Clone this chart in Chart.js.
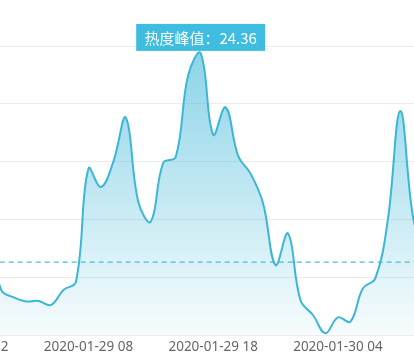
<!DOCTYPE html>
<html>
<head>
<meta charset="utf-8">
<script src="https://cdn.jsdelivr.net/npm/chart.js@4/dist/chart.umd.min.js"></script>
<style>
	html, body { margin: 0; padding: 0; background: #fff; width: 414px; height: 363px; overflow: hidden; }
	#wrap { position: absolute; left: 0; top: 0; width: 560px; height: 420px; }
</style>
</head>
<body>
<div id="wrap"><canvas id="chart"></canvas></div>
<script>
'use strict';

// hourly buckets, 2020-01-28 22:00 .. 2020-01-30 11:00
var hours = [
	'2020-01-28 22', '2020-01-28 23',
	'2020-01-29 00', '2020-01-29 01', '2020-01-29 02', '2020-01-29 03', '2020-01-29 04', '2020-01-29 05',
	'2020-01-29 06', '2020-01-29 07', '2020-01-29 08', '2020-01-29 09', '2020-01-29 10', '2020-01-29 11',
	'2020-01-29 12', '2020-01-29 13', '2020-01-29 14', '2020-01-29 15', '2020-01-29 16', '2020-01-29 17',
	'2020-01-29 18', '2020-01-29 19', '2020-01-29 20', '2020-01-29 21', '2020-01-29 22', '2020-01-29 23',
	'2020-01-30 00', '2020-01-30 01', '2020-01-30 02', '2020-01-30 03', '2020-01-30 04', '2020-01-30 05',
	'2020-01-30 06', '2020-01-30 07', '2020-01-30 08', '2020-01-30 09', '2020-01-30 10', '2020-01-30 11'
];

// heat values
var heat = [
	7.6, 9.4,
	8.6, 3.9, 3.25, 2.9, 2.95, 2.6,
	3.9, 4.6, 14.4, 12.8, 15.0, 18.8,
	11.5, 9.8, 14.9, 15.4, 22.5, 24.36,
	17.33, 19.7, 15.5, 13.96, 11.4, 6.05,
	8.78, 3.0, 1.73, 0.15, 1.53, 1.15,
	4.03, 4.9, 9.93, 19.37, 10.36, 6.2
];

var avgHeat = 6.3;
var labelEvery = 10;
var peakTitle = '热度峰值：';

var blue = '#3cb6d7';

var peakLabel = {
	id: 'peakLabel',
	afterDatasetsDraw: function(chart) {
		var ctx = chart.ctx,
			data = chart.data.datasets[0].data,
			max = Math.max.apply(null, data),
			idx = data.indexOf(max),
			x = chart.scales.x.getPixelForValue(idx),
			y = chart.scales.y.getPixelForValue(max),
			w = 129, h = 27;

		ctx.save();
		ctx.fillStyle = '#3ebde0';
		ctx.fillRect(x - w / 2, y - 2.5 - h, w, h);
		ctx.fillStyle = '#fff';
		ctx.font = '15px "Noto Sans CJK SC", "Noto Sans", sans-serif';
		ctx.textAlign = 'center';
		ctx.textBaseline = 'middle';
		ctx.fillText(peakTitle + max.toFixed(2), x, y - 2.5 - h / 2 + 0.5);
		ctx.restore();
	}
};

var chart = new Chart(document.getElementById('chart'), {
	type: 'line',
	data: {
		labels: hours,
		datasets: [
			{
				data: heat,
				borderColor: blue,
				borderWidth: 2,
				pointRadius: 0,
				tension: 0.4,
				fill: 'origin',
				backgroundColor: function(context) {
					var area = context.chart.chartArea;
					if (!area) {
						return 'rgba(60,182,215,0.3)';
					}
					var g = context.chart.ctx.createLinearGradient(0, area.top, 0, area.bottom);
					g.addColorStop(0, 'rgba(60,182,215,0.6)');
					g.addColorStop(1, 'rgba(60,182,215,0.04)');
					return g;
				}
			},
			{
				data: hours.map(function() { return avgHeat; }),
				borderColor: '#4cbcdb',
				borderWidth: 1.2,
				borderDash: [5, 4],
				pointRadius: 0,
				fill: false
			}
		]
	},
	options: {
		responsive: true,
		maintainAspectRatio: false,
		animation: false,
		layout: { padding: { top: 60, left: 0, right: 0, bottom: 0 } },
		plugins: {
			legend: { display: false },
			tooltip: { enabled: false }
		},
		scales: {
			x: {
				grid: { display: false },
				border: { display: false },
				ticks: {
					autoSkip: false,
					maxRotation: 0,
					padding: -4,
					color: '#666',
					font: { family: '"Noto Sans", sans-serif', size: 13.5 },
					callback: function(v, i) {
						return i % labelEvery === 0 ? hours[i] : '';
					}
				}
			},
			y: {
				min: 0,
				max: 25,
				ticks: { display: false, stepSize: 5 },
				grid: { color: '#ececec', drawTicks: false },
				border: { display: false }
			}
		}
	},
	plugins: [peakLabel]
});

// fit the plot so that 10 hours span 125px and 0..25 spans 289px, then crop it like the screenshot
(function() {
	var wrap = document.getElementById('wrap'),
		xs = chart.scales.x,
		ys = chart.scales.y,
		last = hours.length - 1,
		spanX = xs.getPixelForValue(last) - xs.getPixelForValue(0),
		spanY = ys.getPixelForValue(0) - ys.getPixelForValue(25);

	wrap.style.width = (wrap.offsetWidth + last * 12.5 - spanX) + 'px';
	wrap.style.height = (wrap.offsetHeight + 289 - spanY) + 'px';
	chart.resize();

	wrap.style.left = (-36 - chart.scales.x.getPixelForValue(0)) + 'px';
	wrap.style.top = (46 - chart.scales.y.getPixelForValue(25)) + 'px';
})();
</script>
</body>
</html>
